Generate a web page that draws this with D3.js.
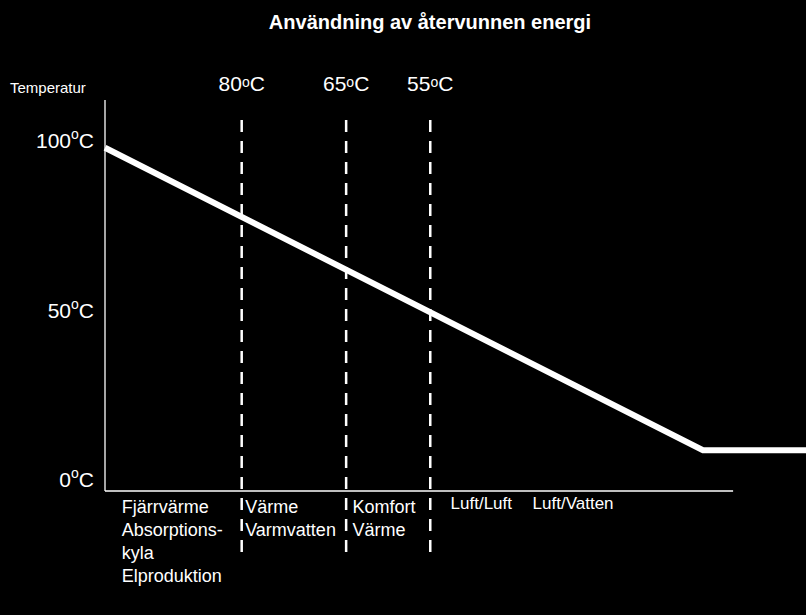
<!DOCTYPE html>
<html><head><meta charset="utf-8">
<script src="https://cdn.jsdelivr.net/npm/d3@7"></script>
<style>body{margin:0;background:#000}svg{display:block}text{font-family:Arial,"Liberation Sans",sans-serif;fill:#fff}</style>
</head><body><svg id="c" width="806" height="615"></svg>
<script>
const linePos = [0, 85.3, 100];
const lineTemp = [98, 8.8, 8.8];
const yTicks = [100, 50, 0];
const dashPos = [19.5, 34.4, 46.4];
const dashLabels = ["80", "65", "55"];
const catPos = [2.4, 20.0, 35.3, 49.3, 61.0];
const catLabels = [["Fjärrvärme","Absorptions-","kyla","Elproduktion"],["Värme","Varmvatten"],["Komfort","Värme"],["Luft/Luft"],["Luft/Vatten"]];

const svg = d3.select("#c");
svg.append("rect").attr("width",806).attr("height",615).attr("fill","#000");
const x = d3.scaleLinear().domain([0,100]).range([105,806]);
const y = d3.scaleLinear().domain([0,100]).range([480,141]);

svg.append("text").attr("x",430).attr("y",29).attr("text-anchor","middle")
  .attr("font-size",20).attr("font-weight","bold").text("Användning av återvunnen energi");
svg.append("text").attr("x",10).attr("y",93).attr("font-size",15).text("Temperatur");

svg.append("line").attr("x1",x(0)).attr("x2",x(0)).attr("y1",100).attr("y2",491).attr("stroke","#fff").attr("stroke-width",1.3);
svg.append("line").attr("x1",x(0)).attr("x2",x(89.6)).attr("y1",491).attr("y2",491).attr("stroke","#fff").attr("stroke-width",1.3);

yTicks.forEach(t=>{
  const tx = svg.append("text").attr("x",94).attr("y",y(t)+7).attr("text-anchor","end").attr("font-size",21);
  tx.append("tspan").text(t);
  tx.append("tspan").attr("dy",-9).attr("font-size",14).text("o");
  tx.append("tspan").attr("dy",9).text("C");
});

dashPos.forEach((p,i)=>{
  svg.append("line").attr("x1",x(p)).attr("x2",x(p)).attr("y1",120).attr("y2",553)
    .attr("stroke","#fff").attr("stroke-width",2.5).attr("stroke-dasharray","12,9");
  const tx = svg.append("text").attr("x",x(p)).attr("y",91).attr("text-anchor","middle").attr("font-size",21);
  tx.append("tspan").text(dashLabels[i]);
  tx.append("tspan").attr("font-size",14).attr("dy",-4).text("o");
  tx.append("tspan").attr("dy",4).text("C");
});

const pts = linePos.map((p,i)=>[x(p),y(lineTemp[i])]);
svg.append("path").attr("d",d3.line()(pts)).attr("fill","none").attr("stroke","#fff").attr("stroke-width",6);

catLabels.forEach((lines,i)=>{
  lines.forEach((l,j)=>{
    svg.append("text").attr("x",x(catPos[i])).attr("y",(i<3?513:509)+j*23).attr("font-size",i<3?18:17).text(l);
  });
});
</script></body></html>
